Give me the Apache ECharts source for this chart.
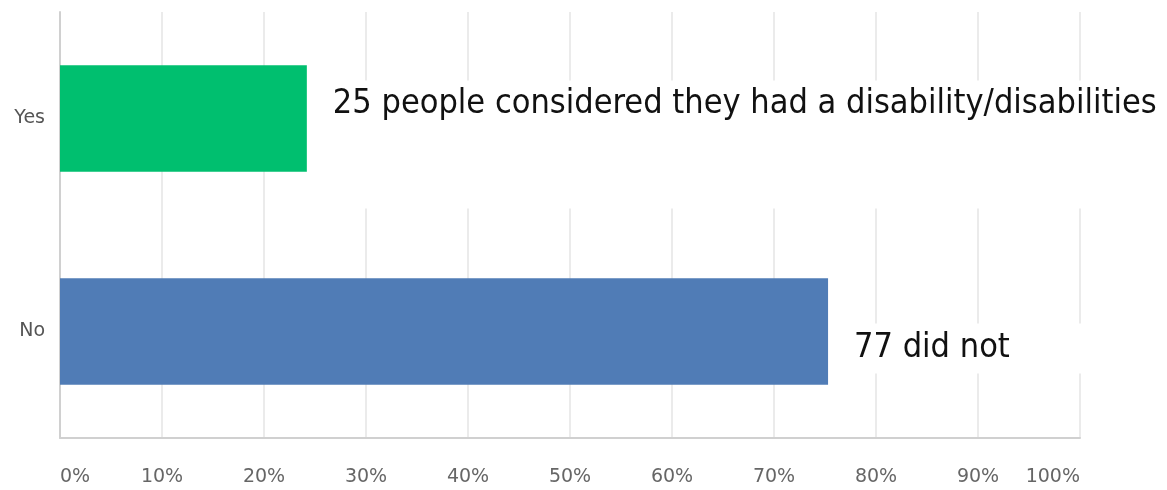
<!DOCTYPE html>
<html>
<head>
<meta charset="utf-8">
<script src="https://cdn.jsdelivr.net/npm/echarts@6/dist/echarts.min.js"></script>
<style>
  html, body { margin: 0; padding: 0; background: #fff; }
  #chart { width: 1167px; height: 490px; }
</style>
</head>
<body>
<div id="chart"></div>
<script>
// answers, top to bottom
const categories = ['Yes', 'No'];
const percents = [24.2, 75.3];
const barColors = ['#00BF6F', '#507CB6'];
const notes = [
  '25 people considered they had a disability/disabilities',
  '77 did not'
];

// white label boxes hide the gridlines behind the notes, like the original
const noteBoxes = [
  { lines: 3, offset: [0, 26], padding: [8, 10, 0, 13] },
  { lines: 1, offset: [0, 17], padding: [10, 85, 0, 13] }
];

const chart = echarts.init(document.getElementById('chart'));

const data = percents.map(function (v, i) {
  let text = notes[i];
  for (let k = 1; k < noteBoxes[i].lines; k++) text += '\n ';
  return {
    value: v,
    itemStyle: { color: barColors[i] },
    label: {
      show: true,
      position: 'right',
      distance: 13,
      formatter: text,
      fontFamily: 'DejaVu Sans Condensed',
      fontSize: 34,
      lineHeight: 40,
      color: '#111',
      backgroundColor: '#fff',
      offset: noteBoxes[i].offset,
      padding: noteBoxes[i].padding
    }
  };
});

chart.setOption({
  animation: false,
  grid: { left: 60, right: 87, top: 12, bottom: 52, containLabel: false },
  xAxis: {
    type: 'value',
    min: 0,
    max: 100,
    interval: 10,
    axisLine: { show: true, lineStyle: { color: '#d0d0d0', width: 2 } },
    axisTick: { show: false },
    splitLine: { show: true, lineStyle: { color: '#ebebeb', width: 2 } },
    axisLabel: {
      formatter: '{value}%',
      color: '#666',
      fontFamily: 'DejaVu Sans',
      fontSize: 19,
      margin: 30,
      alignMinLabel: 'left',
      alignMaxLabel: 'right'
    }
  },
  yAxis: {
    type: 'category',
    data: categories,
    inverse: true,
    axisLine: { show: true, lineStyle: { color: '#d0d0d0', width: 2 } },
    axisTick: { show: false },
    axisLabel: {
      color: '#555',
      fontFamily: 'DejaVu Sans',
      fontSize: 19,
      margin: 15,
      padding: [6, 0, 0, 0]
    }
  },
  series: [{
    type: 'bar',
    barWidth: '50%',
    data: data
  }]
});
</script>
</body>
</html>
